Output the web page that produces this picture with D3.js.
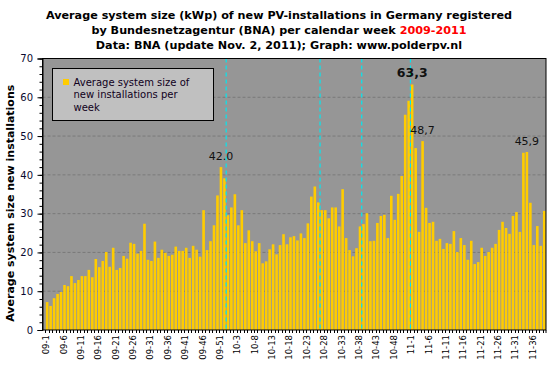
<!DOCTYPE html>
<html>
<head>
<meta charset="utf-8">
<script src="https://cdn.jsdelivr.net/npm/d3@7/dist/d3.min.js"></script>
<style>
body { margin: 0; background: #fff; }
text { font-family: "DejaVu Sans", Verdana, sans-serif; }
</style>
</head>
<body>
<script>
// weeks per year in the chart (2009 has 53 ISO weeks)
var years = ["09", "10", "11"];
var weeksInYear = [53, 52, 39];

// average system size (kWp) per calendar week
var size2009 = [7.2, 6.2, 8.2, 9.3, 9.8, 11.6, 11.3, 13.9, 12.1, 12.9, 13.9, 13.9, 15.5, 13.6, 18.3, 16.2, 17.8, 20.1,
  16.3, 21.2, 15.5, 16.0, 19.1, 18.4, 22.5, 22.2, 19.7, 20.4, 27.4, 18.1, 17.8, 22.8, 18.6, 20.7, 19.9, 19.1, 19.4,
  21.5, 20.4, 20.4, 21.2, 18.6, 21.7, 20.7, 18.9, 30.9, 20.6, 22.9, 27.0, 34.7, 42.0, 39.1, 29.6];
var size2010 = [31.6, 35.0, 27.0, 30.9, 22.4, 25.7, 22.9, 20.3, 22.4, 17.2, 17.7, 20.8, 22.1, 19.5, 21.9, 24.7, 22.1,
  23.9, 24.2, 23.1, 24.9, 23.7, 27.5, 34.4, 37.0, 32.9, 30.9, 30.9, 28.8, 31.6, 31.6, 26.7, 36.3, 23.7, 20.6, 19.0,
  21.1, 26.7, 27.3, 30.1, 22.9, 23.0, 27.6, 29.4, 29.7, 23.7, 34.6, 28.4, 35.1, 39.7, 55.5, 59.1];
var size2011 = [63.3, 46.9, 25.3, 48.7, 31.5, 27.6, 27.9, 23.0, 23.5, 20.9, 22.4, 22.2, 25.5, 20.1, 23.7, 21.9, 18.1,
  23.0, 17.0, 17.5, 21.2, 19.1, 20.1, 21.2, 22.2, 25.8, 27.9, 26.3, 24.8, 29.4, 30.4, 25.3, 45.7, 45.9, 32.8, 21.9,
  26.8, 21.7, 30.7];

var xTickLabels = ["09-1","09-6","09-11","09-16","09-21","09-26","09-31","09-36","09-41","09-46","09-51",
  "10-3","10-8","10-13","10-18","10-23","10-28","10-33","10-38","10-43","10-48",
  "11-1","11-6","11-11","11-16","11-21","11-26","11-31","11-36"];
var yTicks = [0, 10, 20, 30, 40, 50, 60, 70];

// weeks with a tariff change marker (dashed cyan lines)
var markerWeeks = ["09-53", "10-27", "10-39", "11-1"];
// value labels
var labelWeeks = ["09-51", "11-1", "11-4", "11-34"];
var labelTexts = ["42.0", "63,3", "48,7", "45,9"];
var labelBold = [false, true, false, false];

var weeks = [];
years.forEach(function(yr, i) {
  for (var w = 1; w <= weeksInYear[i]; w++) weeks.push(yr + "-" + w);
});
var values = size2009.concat(size2010, size2011);
var data = weeks.map(function(w, i) { return {week: w, value: values[i]}; });

var width = 551, height = 371;
var plotL = 42.5, plotR = 546, plotT = 58.5, plotB = 330;

var svg = d3.select('body').append('svg')
  .attr('width', width)
  .attr('height', height);

var x = d3.scaleBand()
  .domain(weeks)
  .range([45.4, plotR])
  .paddingInner(0.25)
  .paddingOuter(0.125);
var y = d3.scaleLinear().domain([0, 70]).range([plotB, plotT]);
var gap = x.step() * x.paddingInner();

// title
var title = svg.append('g').attr('font-weight', 'bold').attr('font-size', 11.2).attr('text-anchor', 'middle');
title.append('text').attr('x', 279).attr('y', 19)
  .text('Average system size (kWp) of new PV-installations in Germany registered');
var t2 = title.append('text').attr('x', 279).attr('y', 34);
t2.append('tspan').text('by Bundesnetzagentur (BNA) per calendar week ');
t2.append('tspan').attr('fill', '#ff0000').text('2009-2011');
title.append('text').attr('x', 279).attr('y', 49)
  .text('Data: BNA (update Nov. 2, 2011); Graph: www.polderpv.nl');

// plot area
svg.append('rect')
  .attr('x', plotL).attr('y', plotT)
  .attr('width', plotR - plotL).attr('height', plotB - plotT)
  .attr('fill', '#969696');

// gridlines
svg.selectAll('.grid')
  .data(yTicks.filter(function(d) { return d > 0 && d < 70; }))
  .enter().append('line')
  .attr('x1', plotL).attr('x2', plotR)
  .attr('y1', function(d) { return y(d); })
  .attr('y2', function(d) { return y(d); })
  .attr('stroke', '#7a7a7a')
  .attr('stroke-dasharray', '3,2');

// bars
svg.selectAll('.bar')
  .data(data)
  .enter().append('rect')
  .attr('x', function(d) { return x(d.week); })
  .attr('y', function(d) { return y(d.value); })
  .attr('width', x.bandwidth())
  .attr('height', function(d) { return plotB - y(d.value); })
  .attr('fill', '#ffcc00');

// marker lines
svg.selectAll('.marker')
  .data(markerWeeks)
  .enter().append('line')
  .attr('x1', function(d) { return x(d) - gap / 2; })
  .attr('x2', function(d) { return x(d) - gap / 2; })
  .attr('y1', plotT).attr('y2', plotB)
  .attr('stroke', '#00e8f0')
  .attr('stroke-width', 1.2)
  .attr('stroke-dasharray', '4,3');

// frame
svg.append('rect')
  .attr('x', plotL).attr('y', plotT)
  .attr('width', plotR - plotL).attr('height', plotB - plotT)
  .attr('fill', 'none').attr('stroke', '#000');

// y axis
var yAxis = svg.append('g')
  .attr('transform', 'translate(' + plotL + ',0)')
  .call(d3.axisLeft(y).tickValues(yTicks).tickSize(5).tickPadding(4.5));
yAxis.select('.domain').attr('stroke', '#000');
yAxis.selectAll('text').attr('font-size', 10).attr('fill', '#0a0a30')
  .attr('font-family', '"DejaVu Sans", Verdana, sans-serif');
yAxis.selectAll('.minor')
  .data(d3.range(0, 71, 2))
  .enter().append('line')
  .attr('x1', -3).attr('x2', 0)
  .attr('y1', function(d) { return y(d) + 0.5; })
  .attr('y2', function(d) { return y(d) + 0.5; })
  .attr('stroke', '#000');

// x axis ticks between categories
svg.selectAll('.xtick')
  .data(weeks.concat(['end']))
  .enter().append('line')
  .attr('x1', function(d, i) { return i < weeks.length ? Math.round(x(d) - gap / 2) + 0.5 : plotR; })
  .attr('x2', function(d, i) { return i < weeks.length ? Math.round(x(d) - gap / 2) + 0.5 : plotR; })
  .attr('y1', plotB).attr('y2', plotB + 3)
  .attr('stroke', '#000');

svg.selectAll('.xlabel')
  .data(xTickLabels)
  .enter().append('text')
  .attr('transform', function(d) {
    return 'translate(' + (x(d) + x.bandwidth() / 2 - 1) + ',' + (plotB + 5) + ') rotate(-90)';
  })
  .attr('dy', '0.35em')
  .attr('text-anchor', 'end')
  .attr('font-family', '"Liberation Sans", Arial, sans-serif')
  .attr('font-size', 8.5)
  .attr('fill', '#000')
  .text(function(d) { return d; });

// y axis title
svg.append('text')
  .attr('transform', 'translate(14,' + ((plotT + plotB) / 2 + 9) + ') rotate(-90)')
  .attr('text-anchor', 'middle')
  .attr('font-weight', 'bold')
  .attr('font-size', 11)
  .text('Average system size new installations');

// value labels
svg.selectAll('.vlabel')
  .data(labelWeeks)
  .enter().append('text')
  .attr('x', function(d) { return x(d) + x.bandwidth() / 2; })
  .attr('y', function(d) { return y(values[weeks.indexOf(d)]) - 7; })
  .attr('text-anchor', 'middle')
  .attr('font-size', function(d, i) { return labelBold[i] ? 12.5 : 11; })
  .attr('font-weight', function(d, i) { return labelBold[i] ? 'bold' : 'normal'; })
  .attr('fill', '#111')
  .text(function(d, i) { return labelTexts[i]; });

// legend
var legend = svg.append('g');
legend.append('rect')
  .attr('x', 52.5).attr('y', 68.5)
  .attr('width', 161).attr('height', 52)
  .attr('fill', '#c0c0c0').attr('stroke', '#000');
legend.append('rect')
  .attr('x', 63).attr('y', 79)
  .attr('width', 6).attr('height', 6)
  .attr('fill', '#ffcc00');
legend.selectAll('.ltext')
  .data(['Average system size of', 'new installations per', 'week'])
  .enter().append('text')
  .attr('x', 73.5)
  .attr('y', function(d, i) { return 85.5 + i * 12.5; })
  .attr('font-size', 10)
  .attr('fill', '#100020')
  .text(function(d) { return d; });
</script>
</body>
</html>
